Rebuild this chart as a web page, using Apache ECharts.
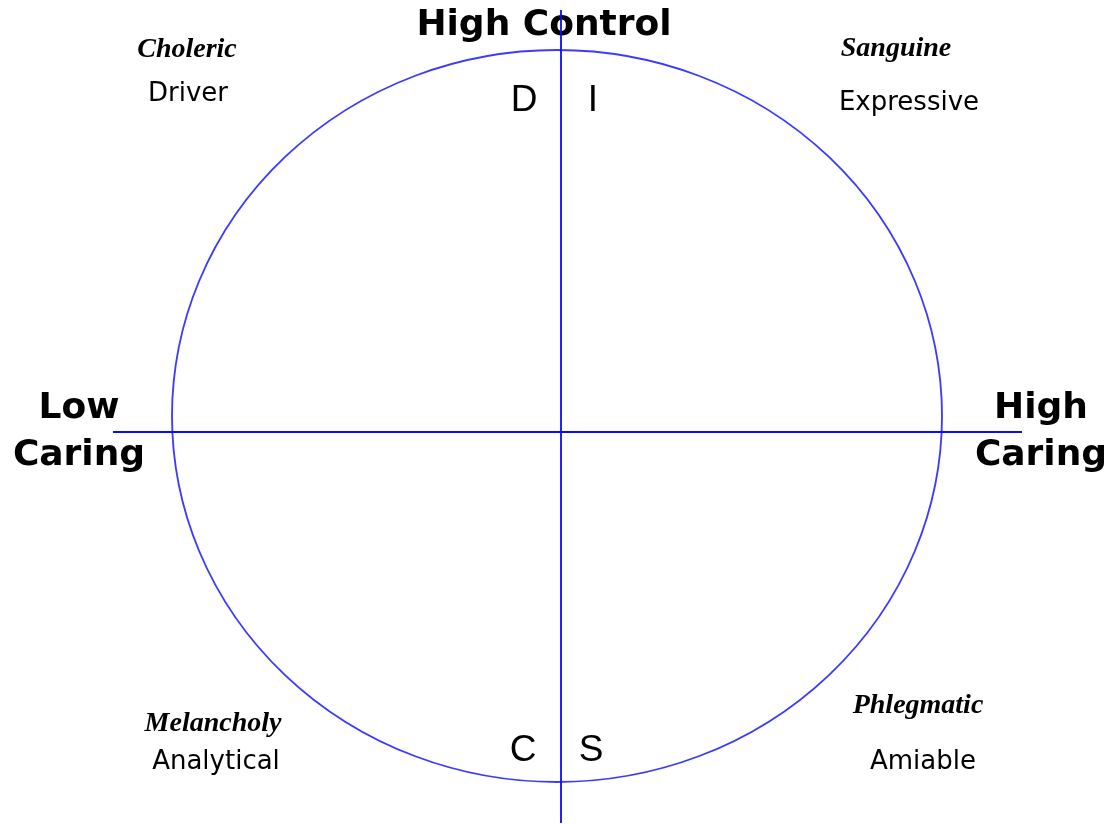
<!DOCTYPE html>
<html>
<head>
<meta charset="utf-8">
<title>Temperaments</title>
<script src="https://cdn.jsdelivr.net/npm/echarts@6/dist/echarts.min.js"></script>
<style>
  html, body { margin: 0; padding: 0; background: #fff; }
  #main { width: 1111px; height: 824px; }
</style>
</head>
<body>
<div id="main"></div>
<script>
// axis titles and quadrant labels
var axisTitles = ['High Control', 'Low', 'Caring', 'High', 'Caring'];
var letters = ['D', 'I', 'C', 'S'];
var temperaments = ['Choleric', 'Sanguine', 'Melancholy', 'Phlegmatic'];
var styles = ['Driver', 'Expressive', 'Analytical', 'Amiable'];

// the two axes of the diagram (data units are the chart's own units, crossing at 0,0)
var caringLine = [[-448, 0], [461, 0]];
var controlLine = [[0, 422], [0, -391]];
// centre of the ring
var ringCenter = [[-4, 16]];

var blue = '#0a0aff';

var myChart = echarts.init(document.getElementById('main'));

function txt(s, x, y, font) {
  return {
    type: 'text',
    x: x,
    y: y,
    style: {
      text: s,
      font: font,
      fill: '#000',
      textAlign: 'center',
      textVerticalAlign: 'middle'
    }
  };
}

var boldFont = 'bold 36px "DejaVu Sans"';
var letterFont = '37px "Liberation Sans"';
var serifFont = 'italic bold 28px "Liberation Serif"';
var sansFont = '26px "DejaVu Sans"';

var option = {
  animation: false,
  backgroundColor: '#fff',
  grid: { left: 0, right: 0, top: 0, bottom: 0 },
  xAxis: { type: 'value', min: -561, max: 550, show: false },
  yAxis: { type: 'value', min: -392, max: 432, show: false },
  series: [
    {
      type: 'scatter',
      data: ringCenter,
      symbol: 'circle',
      symbolSize: [770, 732],
      silent: true,
      itemStyle: { color: 'rgba(0,0,0,0)', borderColor: blue, borderWidth: 1.8 },
      z: 1
    },
    {
      type: 'line',
      data: caringLine,
      symbol: 'none',
      silent: true,
      lineStyle: { color: blue, width: 1.8 },
      z: 2
    },
    {
      type: 'line',
      data: controlLine,
      symbol: 'none',
      silent: true,
      lineStyle: { color: blue, width: 1.8 },
      z: 2
    }
  ],
  graphic: [
    txt(axisTitles[0], 544, 26, boldFont),
    txt(axisTitles[1], 79, 409, boldFont),
    txt(axisTitles[2], 79, 456, boldFont),
    txt(axisTitles[3], 1041, 409, boldFont),
    txt(axisTitles[4], 1041, 456, boldFont),

    txt(letters[0], 524, 101, letterFont),
    txt(letters[1], 593, 101, letterFont),
    txt(letters[2], 523, 751, letterFont),
    txt(letters[3], 591, 751, letterFont),

    txt(temperaments[0], 187, 50, serifFont),
    txt(temperaments[1], 896, 49, serifFont),
    txt(temperaments[2], 213, 724, serifFont),
    txt(temperaments[3], 918, 706, serifFont),

    txt(styles[0], 188, 94, sansFont),
    txt(styles[1], 909, 103, sansFont),
    txt(styles[2], 216, 762, sansFont),
    txt(styles[3], 923, 762, sansFont)
  ]
};

myChart.setOption(option);
</script>
</body>
</html>
